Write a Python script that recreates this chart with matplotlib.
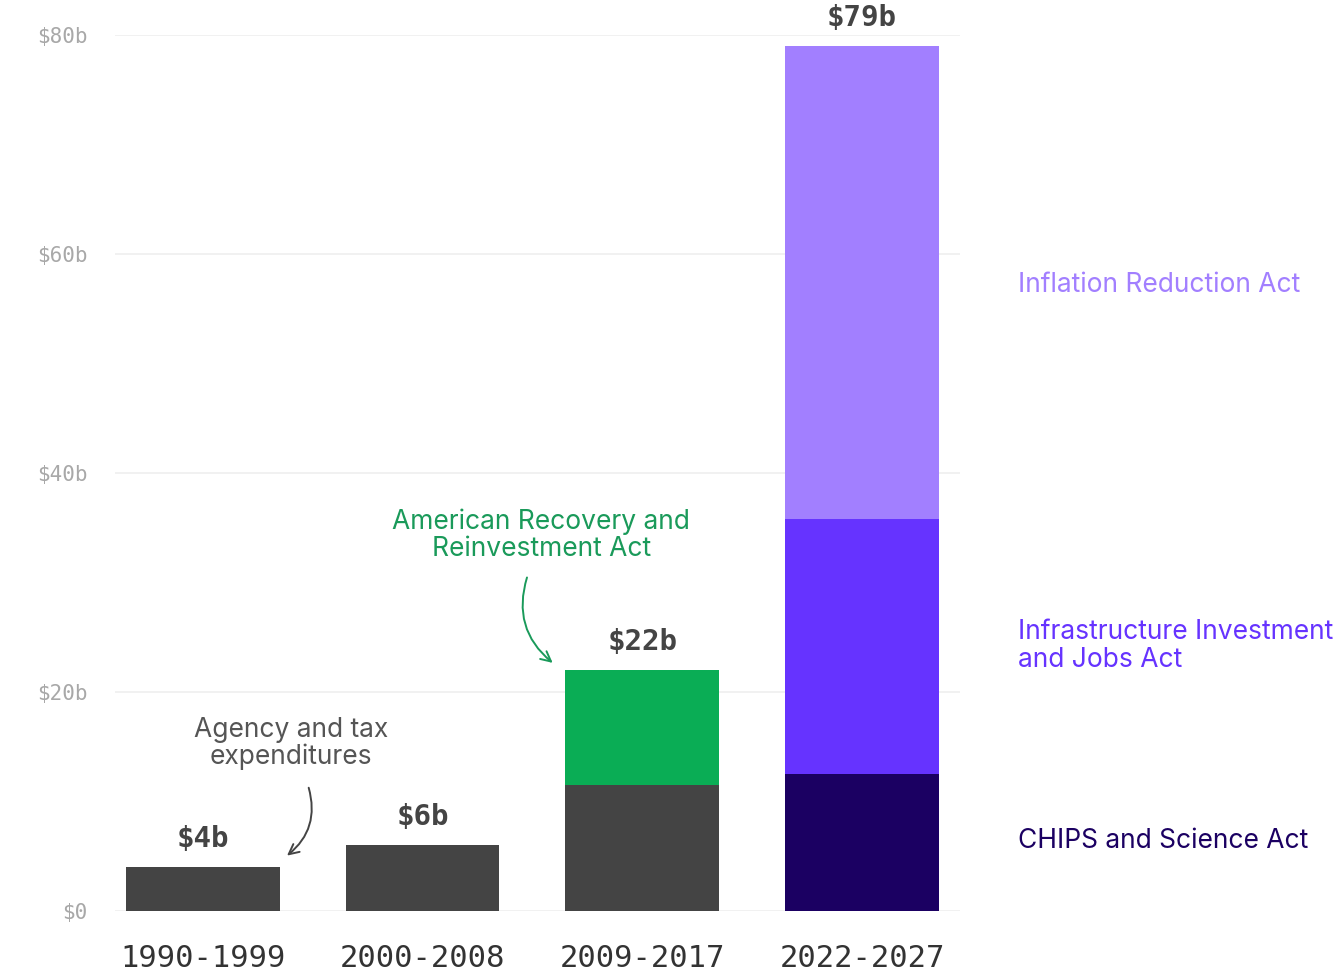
import matplotlib.pyplot as plt
from matplotlib.patches import FancyArrowPatch

# Federal clean-energy spending by period, $ billions
periods = ['1990-1999', '2000-2008', '2009-2017', '2022-2027']
agency_tax = [4, 6, 11.5, 0]
arra = [0, 0, 10.5, 0]
chips = [0, 0, 0, 12.5]
iija = [0, 0, 0, 23.3]
ira = [0, 0, 0, 43.2]
y_ticks = [0, 20, 40, 60, 80]
y_tick_labels = ['$0', '$20b', '$40b', '$60b', '$80b']

gray = '#444444'
green = '#0aad55'
chips_c = '#1b0062'
iija_c = '#6633ff'
ira_c = '#a27fff'

sans = ['Inter', 'DejaVu Sans']
mono = ['DejaVu Sans Mono']

fig = plt.figure(figsize=(13.38, 9.73), dpi=100)
ax = fig.add_axes([115 / 1338, 62 / 973, 845 / 1338, 876 / 973])

x = list(range(len(periods)))
w = 0.7
bottom = [0] * len(periods)
for vals, col in [(agency_tax, gray), (arra, green), (chips, chips_c),
                  (iija, iija_c), (ira, ira_c)]:
    ax.bar(x, vals, width=w, bottom=bottom, color=col, zorder=2)
    bottom = [b + v for b, v in zip(bottom, vals)]

# totals above each bar
for xi, tot in zip(x, bottom):
    ax.annotate(f'${tot:g}b', (xi, tot), xytext=(0, 10), textcoords='offset points',
                ha='center', va='bottom', fontsize=21, fontweight='bold',
                family=mono, color='#444444')

ax.set_xlim(-0.40, 3.446)
ax.set_ylim(0, 80)
ax.set_yticks(y_ticks)
ax.set_yticklabels(y_tick_labels, family=mono, fontsize=15, color='#a8a8a8')
ax.set_xticks(x)
ax.set_xticklabels(periods, family=mono, fontsize=22, color='#333333')
ax.tick_params(length=0)
ax.tick_params(axis='x', pad=24)
ax.tick_params(axis='y', pad=20)
for s in ax.spines.values():
    s.set_visible(False)
ax.yaxis.grid(True, color='#efefef', linewidth=1.2, zorder=0)

# callouts
ax.text(0.40, 15.3, 'Agency and tax\nexpenditures', ha='center', va='center',
        fontsize=19, family=sans, color='#555555', linespacing=1.05)
ax.add_patch(FancyArrowPatch((0.478, 11.5), (0.373, 4.9), arrowstyle='->',
                             mutation_scale=18, color='#444444', lw=1.4,
                             connectionstyle='arc3,rad=-0.35'))
ax.text(1.54, 34.3, 'American Recovery and\nReinvestment Act', ha='center', va='center',
        fontsize=19, family=sans, color='#1a9a5a', linespacing=1.05)
ax.add_patch(FancyArrowPatch((1.479, 30.7), (1.602, 22.5), arrowstyle='->',
                             mutation_scale=18, color='#1a9a5a', lw=1.4,
                             connectionstyle='arc3,rad=0.35'))

# labels for the 2022-2027 stack
fig.text(1018 / 1338, 1 - 285 / 973, 'Inflation Reduction Act', ha='left', va='center',
         fontsize=19, family=sans, color=ira_c)
fig.text(1018 / 1338, 1 - 646 / 973, 'Infrastructure Investment\nand Jobs Act', ha='left',
         va='center', fontsize=19, family=sans, color=iija_c, linespacing=1.1)
fig.text(1018 / 1338, 1 - 841 / 973, 'CHIPS and Science Act', ha='left', va='center',
         fontsize=19, family=sans, color=chips_c)

fig.savefig('out.png', dpi=100, facecolor='white')
